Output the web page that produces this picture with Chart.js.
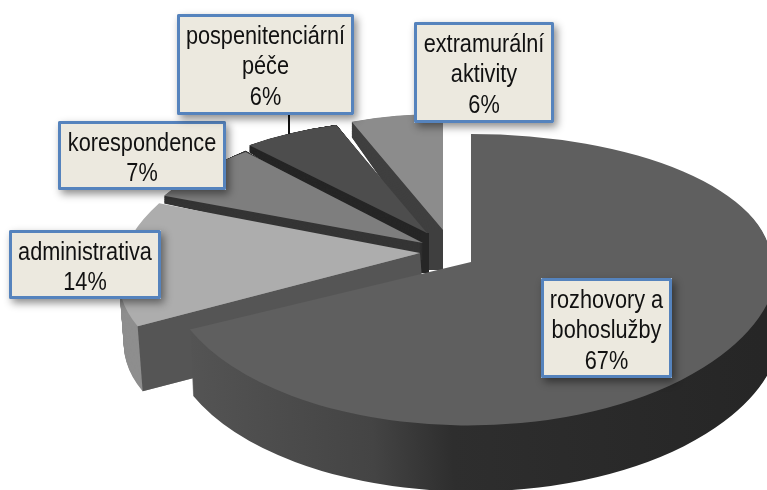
<!DOCTYPE html>
<html>
<head>
<meta charset="utf-8">
<style>
    html, body { margin: 0; padding: 0; background: #fff; }
    canvas { display: block; }
</style>
</head>
<body>
<canvas id="pie" width="767" height="490"></canvas>
<script src="https://cdn.jsdelivr.net/npm/chart.js@4/dist/chart.umd.min.js"></script>
<script>
// Chart data
const categories = [
    ['rozhovory a', 'bohoslužby'],
    ['administrativa'],
    ['korespondence'],
    ['pospenitenciární', 'péče'],
    ['extramurální', 'aktivity']
];
const percents = [67, 14, 7, 6, 6];

// Colours of top faces and sides
const topColors = ['#5f5f5f', '#adadad', '#7e7e7e', '#4d4d4d', '#8c8c8c'];
const sideColors = ['#404040', '#8e8e8e', '#353535', '#262626', '#3f3f3f'];
const cutColors = [null, '#555555', null, null, null];

// Fake 3D projection of each slice: where its tip sits and how the unit circle is bent
const projection = [
    { x: 471, y: 262, m: [300, 0, 0, 128], low: [306, 12.6, -27, 163], dx: 3, dy: 66, k: 1 },
    { x: 420, y: 253, m: [298, -4, -44, 145], dx: 5, dy: 65, k: 1 },
    { x: 423, y: 243, m: [290, 2, -29, 123], dx: 0, dy: 17, k: 1.2 },
    { x: 427, y: 233, m: [269, 8, -9, 113], dx: 0, dy: 37, k: 1.34, post: [-6, 2] },
    { x: 443, y: 230, m: [248, 1, 0, 116], dx: 0, dy: 37, k: 1.2, post: [-14, 0] }
];
const paintOrder = [4, 3, 2, 1, 0];

// Label boxes: left, top, width, height
const labelBoxes = [
    [541, 278, 131, 100],
    [9, 230, 152, 69],
    [58, 121, 168, 69],
    [177, 14, 177, 101],
    [414, 22, 140, 101]
];

function paintArc(ctx, arc, base, color, slice, shiftX, shiftY, grow) {
    arc.options = Object.assign({}, base, { backgroundColor: color, borderWidth: 0 });
    const r = arc.outerRadius;
    const x = slice.x + shiftX;
    const y = Math.round(slice.y + shiftY);
    const parts = slice.low ? [[slice.m, 0, y], [slice.low, y, 490]] : [[slice.m, 0, 490]];
    parts.forEach(([m, from, to]) => {
        ctx.save();
        ctx.beginPath();
        ctx.rect(0, from, 767, to - from);
        ctx.clip();
        ctx.transform(m[0] / r, m[1] * grow / r, m[2] / r, m[3] * grow / r, x, y);
        ctx.translate(-arc.x, -arc.y);
        arc.draw(ctx);
        ctx.restore();
    });
    arc.options = base;
}

// The big slice has a side that gets darker to the right
function bigSideGradient(ctx, arc, slice) {
    const toArc = sx => arc.x + (sx - slice.x) * arc.outerRadius / slice.low[0];
    const g = ctx.createLinearGradient(toArc(190), 0, toArc(767), 0);
    g.addColorStop(0, '#555555');
    g.addColorStop(0.36, '#444444');
    g.addColorStop(0.5, '#2e2e2e');
    g.addColorStop(1, '#262626');
    return g;
}

function paintCutFace(ctx, arc, slice, color) {
    const r = slice.m;
    const u = Math.cos(arc.startAngle);
    const v = Math.sin(arc.startAngle);
    const tipX = slice.x + r[0] * u + r[2] * v;
    const tipY = slice.y + r[1] * u + r[3] * v;
    ctx.fillStyle = color;
    ctx.beginPath();
    ctx.moveTo(slice.x, slice.y);
    ctx.lineTo(tipX, tipY);
    ctx.lineTo(tipX + slice.dx, tipY + slice.dy);
    ctx.lineTo(slice.x + slice.dx, slice.y + slice.dy);
    ctx.closePath();
    ctx.fill();
}

function paintLabel(ctx, i) {
    const [x, y, w, h] = labelBoxes[i];
    ctx.save();
    ctx.shadowColor = 'rgba(0, 0, 0, 0.45)';
    ctx.shadowBlur = 8;
    ctx.shadowOffsetX = 3;
    ctx.shadowOffsetY = 4;
    ctx.fillStyle = '#ece9df';
    ctx.fillRect(x, y, w, h);
    ctx.restore();

    ctx.fillStyle = '#ece9df';
    ctx.fillRect(x, y, w, h);
    ctx.strokeStyle = '#5583bd';
    ctx.lineWidth = 3;
    ctx.lineJoin = 'round';
    ctx.strokeRect(x + 1.5, y + 1.5, w - 3, h - 3);

    // The original text is narrow and tall
    const lines = categories[i].concat(percents[i] + '%');
    ctx.fillStyle = '#111';
    ctx.font = '25px "Liberation Sans", Arial, sans-serif';
    ctx.textAlign = 'center';
    ctx.textBaseline = 'alphabetic';
    lines.forEach((line, n) => {
        ctx.save();
        ctx.translate(x + w / 2, y + 29.5 + n * 30.7);
        ctx.scale(0.868, 1);
        ctx.fillText(line, 0, 0);
        ctx.restore();
    });
}

const pie3d = {
    id: 'pie3d',
    beforeDatasetsDraw(chart) {
        const ctx = chart.ctx;
        const arcs = chart.getDatasetMeta(0).data;

        paintOrder.forEach(i => {
            const arc = arcs[i];
            const base = arc.options;
            const slice = projection[i];
            const side = i === 0 ? bigSideGradient(ctx, arc, slice) : sideColors[i];
            for (let s = slice.dy; s > 0; s--) {
                const t = s / slice.dy;
                paintArc(ctx, arc, base, side, slice, slice.dx * t, s, 1 + (slice.k - 1) * t);
            }
            if (cutColors[i]) {
                paintCutFace(ctx, arc, slice, cutColors[i]);
            }
            // Inner corner of the rear slices
            if (slice.post) {
                ctx.fillStyle = sideColors[i];
                ctx.fillRect(slice.x + slice.post[0], slice.y, slice.post[1] - slice.post[0], slice.dy + 3);
            }
            paintArc(ctx, arc, base, topColors[i], slice, 0, 0, 1);
        });

        // Leader line of the pospenitenciární label
        ctx.strokeStyle = '#111';
        ctx.lineWidth = 2;
        ctx.beginPath();
        ctx.moveTo(289, 114);
        ctx.lineTo(289, 134);
        ctx.stroke();

        [1, 2, 3, 4, 0].forEach(i => paintLabel(ctx, i));
        return false;
    }
};

new Chart(document.getElementById('pie').getContext('2d'), {
    type: 'pie',
    data: {
        labels: categories.map(c => c.join(' ')),
        datasets: [{
            data: percents,
            backgroundColor: topColors,
            borderWidth: 0
        }]
    },
    options: {
        responsive: false,
        animation: false,
        events: [],
        plugins: {
            legend: { display: false },
            tooltip: { enabled: false }
        }
    },
    plugins: [pie3d]
});
</script>
</body>
</html>
